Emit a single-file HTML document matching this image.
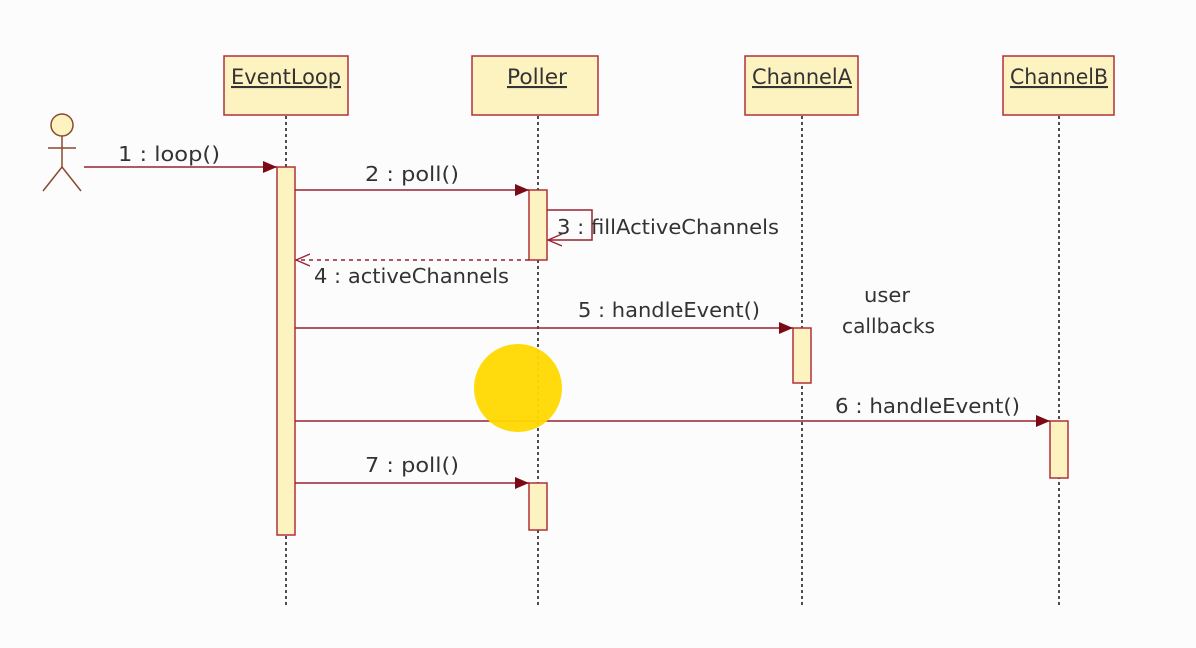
<!DOCTYPE html>
<html><head><meta charset="utf-8"><style>html,body{margin:0;padding:0;background:#fcfcfc}svg{display:block}</style></head>
<body>
<svg width="1196" height="648" xmlns="http://www.w3.org/2000/svg" font-family="DejaVu Sans, Liberation Sans, sans-serif" font-size="20" fill="#333">
<defs>
<marker id="f" markerWidth="14" markerHeight="12" refX="14" refY="6" orient="auto" markerUnits="userSpaceOnUse"><path d="M0,0 L14,6 L0,12 Z" fill="#7a0a14"/></marker>
<marker id="o" markerWidth="16" markerHeight="14" refX="14" refY="7" orient="auto" markerUnits="userSpaceOnUse"><path d="M0,1 L14,7 L0,13" fill="none" stroke="#9a2030" stroke-width="1.3"/></marker>
</defs>
<rect width="1196" height="648" fill="#fcfcfc"/>
<g fill="#fdf3c0" stroke="#b0303a" stroke-width="1.5">
<rect x="224" y="56" width="124" height="59"/>
<rect x="472" y="56" width="126" height="59"/>
<rect x="745" y="56" width="113" height="59"/>
<rect x="1003" y="56" width="111" height="59"/>
</g>
<g text-anchor="middle" text-decoration="underline" fill="#333" font-size="21">
<text x="286" y="84" textLength="110" lengthAdjust="spacingAndGlyphs">EventLoop</text>
<text x="537" y="84" textLength="60" lengthAdjust="spacingAndGlyphs">Poller</text>
<text x="802" y="84" textLength="100" lengthAdjust="spacingAndGlyphs">ChannelA</text>
<text x="1059" y="84" textLength="98" lengthAdjust="spacingAndGlyphs">ChannelB</text>
</g>
<g stroke="#222" stroke-width="1.6" stroke-dasharray="3,3">
<line x1="286" y1="116" x2="286" y2="605"/>
<line x1="538" y1="116" x2="538" y2="605"/>
<line x1="802" y1="116" x2="802" y2="605"/>
<line x1="1059" y1="116" x2="1059" y2="605"/>
</g>
<g fill="none" stroke="#8a4a30" stroke-width="1.5">
<circle cx="62" cy="125" r="11" fill="#fdf3c0"/>
<line x1="62" y1="136" x2="62" y2="167"/>
<line x1="48" y1="148" x2="76" y2="148"/>
<line x1="62" y1="167" x2="43" y2="191"/>
<line x1="62" y1="167" x2="81" y2="191"/>
</g>
<g fill="#fdf3c0" stroke="#b0303a" stroke-width="1.5">
<rect x="277" y="167" width="18" height="368"/>
<rect x="529" y="190" width="18" height="70"/>
<rect x="529" y="483" width="18" height="47"/>
<rect x="793" y="328" width="18" height="55"/>
<rect x="1050" y="421" width="18" height="57"/>
</g>
<g stroke="#9a2030" stroke-width="1.5" fill="none">
<line x1="84" y1="167" x2="277" y2="167" marker-end="url(#f)"/>
<line x1="295" y1="190" x2="529" y2="190" marker-end="url(#f)"/>
<path d="M547,210 L592,210 L592,240 L548,240" marker-end="url(#o)"/>
<line x1="529" y1="260" x2="296" y2="260" stroke-dasharray="4,4" marker-end="url(#o)"/>
<line x1="295" y1="328" x2="793" y2="328" marker-end="url(#f)"/>
<line x1="295" y1="421" x2="1050" y2="421" marker-end="url(#f)"/>
<line x1="295" y1="483" x2="529" y2="483" marker-end="url(#f)"/>
</g>
<circle cx="518" cy="388" r="44" fill="#ffd900" opacity="0.95"/>
<g fill="#333">
<text x="118" y="161" textLength="102" lengthAdjust="spacingAndGlyphs">1 : loop()</text>
<text x="365" y="181" textLength="94" lengthAdjust="spacingAndGlyphs">2 : poll()</text>
<text x="557" y="234" textLength="222" lengthAdjust="spacingAndGlyphs">3 : fillActiveChannels</text>
<text x="314" y="283" textLength="195" lengthAdjust="spacingAndGlyphs">4 : activeChannels</text>
<text x="578" y="317" textLength="182" lengthAdjust="spacingAndGlyphs">5 : handleEvent()</text>
<text x="864" y="302" textLength="46" lengthAdjust="spacingAndGlyphs">user</text>
<text x="842" y="333" textLength="93" lengthAdjust="spacingAndGlyphs">callbacks</text>
<text x="835" y="413" textLength="185" lengthAdjust="spacingAndGlyphs">6 : handleEvent()</text>
<text x="365" y="472" textLength="94" lengthAdjust="spacingAndGlyphs">7 : poll()</text>
</g>
</svg>
</body></html>
